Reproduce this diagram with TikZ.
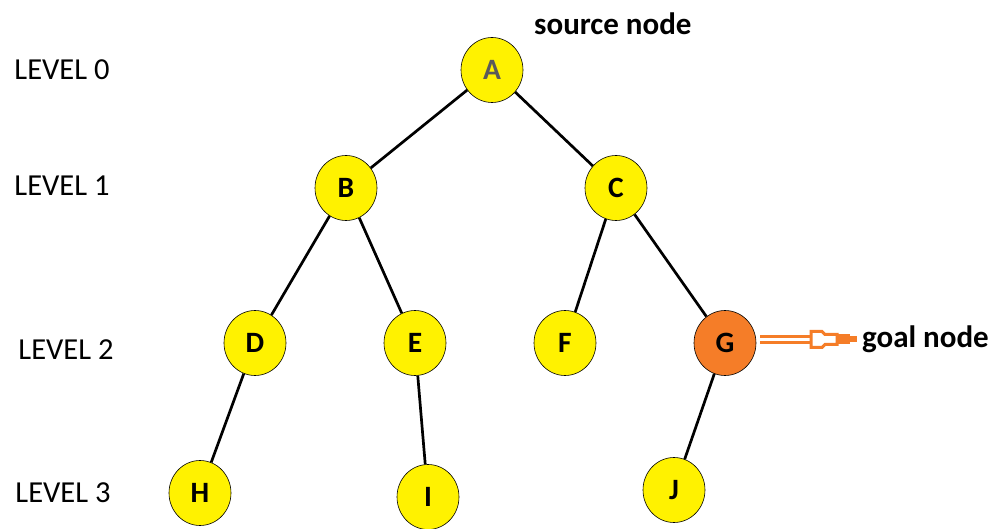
\documentclass[tikz,border=0pt]{standalone}
\usepackage{fontspec}
\setmainfont{Carlito}
\usetikzlibrary{shapes.geometric,calc}
\definecolor{nodeyellow}{RGB}{255,242,0}
\definecolor{goalorange}{RGB}{245,125,40}
\definecolor{lettergray}{RGB}{90,90,90}
\tikzset{
  treenode/.style={ellipse,draw=black,line width=0.6pt,fill=nodeyellow,
    minimum width=62pt,minimum height=65pt,inner sep=0pt,
    font=\fontsize{29.5}{29.5}\selectfont\bfseries},
  goalnode/.style={treenode,fill=goalorange},
  treeedge/.style={draw=black,line width=2.7pt},
  levellabel/.style={font=\fontsize{30.5}{30.5}\selectfont,anchor=center},
  notelabel/.style={font=\fontsize{31}{31}\selectfont\bfseries,anchor=west,inner sep=0pt},
  pointershaft/.style={draw=goalorange,double=white,line width=3pt,double distance=3.4pt},
  pointerhead/.style={draw=goalorange,fill=white,line width=3pt,line join=miter},
}
\begin{document}
\begin{tikzpicture}[x=1pt,y=-1pt]
\useasboundingbox (0,0) rectangle (994,529);
% tree nodes
\node[treenode,text=lettergray] (A) at (492,70) {A};
\node[treenode] (B) at (346,188) {B};
\node[treenode] (C) at (616,188) {C};
\node[treenode] (D) at (255,343) {D};
\node[treenode] (E) at (415,343) {E};
\node[treenode] (F) at (565,343) {F};
\node[goalnode] (G) at (725,343) {G};
\node[treenode] (H) at (200,493) {H};
\node[treenode] (I) at (428,497) {I};
\node[treenode] (J) at (674,490) {J};
% edges
\draw[treeedge] (A) -- (B);
\draw[treeedge] (A) -- (C);
\draw[treeedge] (B) -- (D);
\draw[treeedge] (B) -- (E);
\draw[treeedge] (C) -- (F);
\draw[treeedge] (C) -- (G);
\draw[treeedge] (D) -- (H);
\draw[treeedge] (E) -- (I);
\draw[treeedge] (G) -- (J);
% level labels
\node[levellabel] (L0) at (62,70) {LEVEL 0};
\node[levellabel] (L1) at (62,186) {LEVEL 1};
\node[levellabel] (L2) at (66,350) {LEVEL 2};
\node[levellabel] (L3) at (63,493) {LEVEL 3};
% annotations
\node[notelabel] (src) at (534,24) {source node};
\node[notelabel] (goal) at (862,339.5) {goal node};
% hollow pointer from the goal node to its label
\coordinate (ptail) at ($(G.east)+(4,-3.5)$);
\begin{scope}[shift={(goal.west)}]
  \coordinate (phead) at (-51,0);
  \fill[goalorange] (-25,-5) rectangle (-12,5);
  \fill[goalorange] (-12,-3) rectangle (-5,3);
\end{scope}
\draw[pointershaft] (ptail) -- (phead);
\begin{scope}[shift={(goal.west)}]
  \draw[pointerhead] (-51,-8) -- (-40,-8) -- (-37,-5) -- (-25,-5)
    -- (-25,5) -- (-37,5) -- (-40,8) -- (-51,8) -- cycle;
\end{scope}
\end{tikzpicture}
\end{document}
